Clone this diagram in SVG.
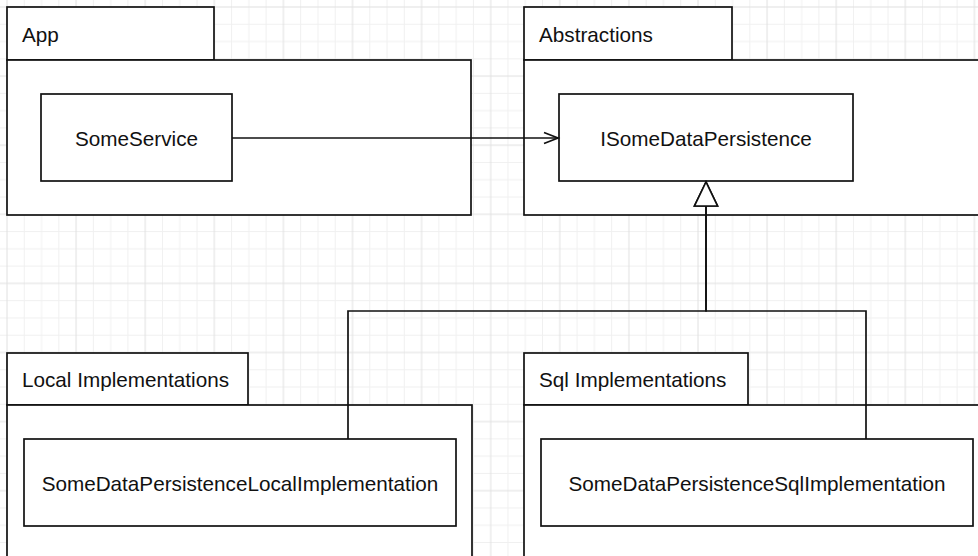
<svg xmlns="http://www.w3.org/2000/svg" width="978" height="556" viewBox="0 0 978 556">
  <style>
    .box { fill: #ffffff; stroke: #111111; stroke-width: 1.7; }
    .lbl { font-family: "Liberation Sans", Arial, sans-serif; font-size: 20.7px; fill: #111111; dominant-baseline: central; }
    .mid { text-anchor: middle; }
    .edge { fill: none; stroke: #111111; stroke-width: 1.7; }
  </style>
  <defs>
    <pattern id="grid" patternUnits="userSpaceOnUse" x="6" y="6" width="69.1" height="69.1">
      <g stroke="#f0f0f0" stroke-width="1" fill="none">
        <line x1="18.275" y1="0" x2="18.275" y2="69.1"/>
        <line x1="35.55" y1="0" x2="35.55" y2="69.1"/>
        <line x1="52.825" y1="0" x2="52.825" y2="69.1"/>
        <line x1="0" y1="18.275" x2="69.1" y2="18.275"/>
        <line x1="0" y1="35.55" x2="69.1" y2="35.55"/>
        <line x1="0" y1="52.825" x2="69.1" y2="52.825"/>
      </g>
      <g stroke="#e0e0e0" stroke-width="1" fill="none">
        <line x1="1" y1="0" x2="1" y2="69.1"/>
        <line x1="0" y1="1" x2="69.1" y2="1"/>
      </g>
    </pattern>
    <marker id="openArrow" markerUnits="userSpaceOnUse" markerWidth="20" markerHeight="20" orient="auto" overflow="visible">
      <path d="M-14,-5.5 L0,0 L-14,5.5" fill="none" stroke="#111111" stroke-width="1.7"/>
    </marker>
    <marker id="hollowTri" markerUnits="userSpaceOnUse" markerWidth="30" markerHeight="30" orient="auto" overflow="visible">
      <path d="M0,0 L-24,-11.5 L-24,11.5 Z" fill="#ffffff" stroke="#111111" stroke-width="1.7"/>
    </marker>
  </defs>

  <rect x="0" y="0" width="978" height="556" fill="#ffffff"/>
  <rect x="0" y="0" width="978" height="556" fill="url(#grid)"/>

  <g id="pkg-app">
    <rect class="box" x="7" y="7" width="207" height="53"/>
    <rect class="box" x="7" y="60" width="464" height="155"/>
    <text class="lbl" x="22" y="34">App</text>
  </g>
  <g id="pkg-abstractions">
    <rect class="box" x="524" y="7" width="208" height="53"/>
    <rect class="box" x="524" y="60" width="470" height="155"/>
    <text class="lbl" x="539" y="34">Abstractions</text>
  </g>
  <g id="pkg-local">
    <rect class="box" x="7" y="353" width="241" height="52"/>
    <rect class="box" x="7" y="405" width="465" height="170"/>
    <text class="lbl" x="22" y="379">Local Implementations</text>
  </g>
  <g id="pkg-sql">
    <rect class="box" x="524" y="353" width="224" height="52"/>
    <rect class="box" x="524" y="405" width="470" height="170"/>
    <text class="lbl" x="539" y="379">Sql Implementations</text>
  </g>

  <g id="node-someservice">
    <rect class="box" x="41" y="94" width="191" height="87"/>
    <text class="lbl mid" x="136.5" y="138">SomeService</text>
  </g>
  <g id="node-isomedatapersistence">
    <rect class="box" x="559" y="94" width="294" height="87"/>
    <text class="lbl mid" x="706" y="138">ISomeDataPersistence</text>
  </g>
  <g id="node-localimpl">
    <rect class="box" x="24" y="439" width="432" height="87"/>
    <text class="lbl mid" x="240" y="483">SomeDataPersistenceLocalImplementation</text>
  </g>
  <g id="node-sqlimpl">
    <rect class="box" x="541" y="439" width="432" height="87"/>
    <text class="lbl mid" x="757" y="483">SomeDataPersistenceSqlImplementation</text>
  </g>

  <g id="connectors">
    <path class="edge" d="M232,138 L558,138" marker-end="url(#openArrow)"/>
    <path class="edge" d="M348,439 L348,311 L706,311 L706,182" marker-end="url(#hollowTri)"/>
    <path class="edge" d="M866,439 L866,311 L706,311 L706,182" marker-end="url(#hollowTri)"/>
  </g>
</svg>
